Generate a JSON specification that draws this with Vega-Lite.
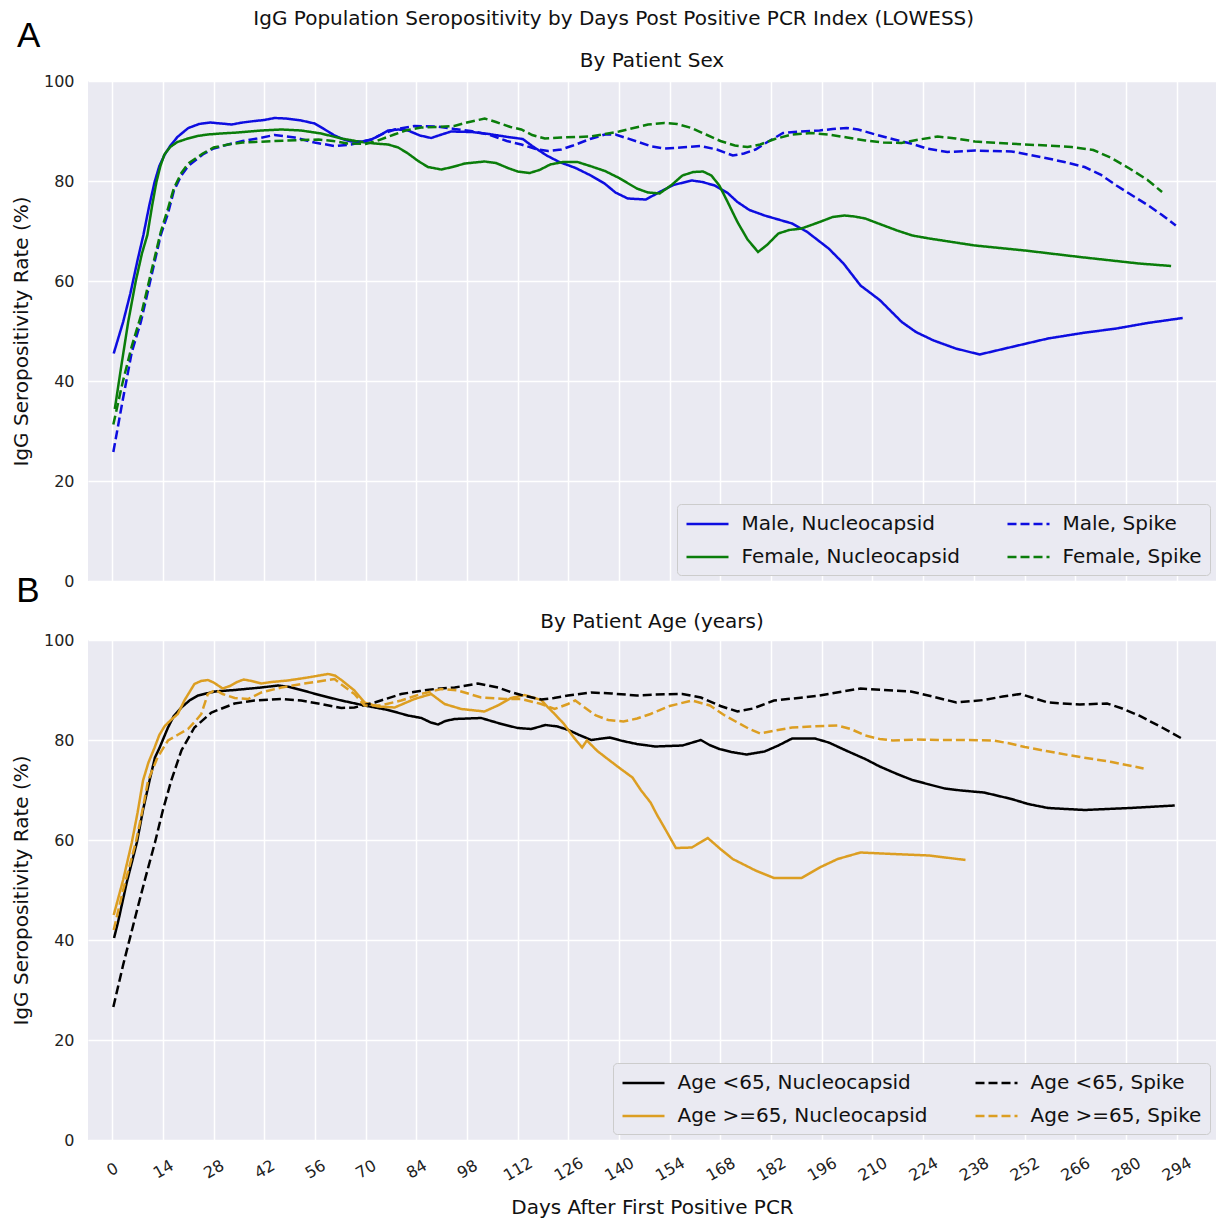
{
  "$schema": "https://vega.github.io/schema/vega-lite/v6.json",
  "background": "white",
  "padding": {"left": 11, "top": 8, "right": 0, "bottom": 0},
  "title": {"text": "IgG Population Seropositivity by Days Post Positive PCR Index (LOWESS)", "fontSize": 20, "fontWeight": "normal", "color": "#111", "anchor": "middle", "offset": -10},
  "config": {
    "font": "DejaVu Sans",
    "view": {"fill": "#eaeaf2", "stroke": null},
    "axis": {"grid": true, "gridColor": "white", "gridWidth": 1.5, "domain": false, "ticks": false, "labelFontSize": 16, "labelColor": "#222", "titleFontSize": 20, "titleFontWeight": "normal", "titleColor": "#111"},
    "legend": {"orient": "bottom-right", "offset": 6, "columns": 2, "symbolType": "M-2,0H2", "symbolSize": 441, "symbolOffset": 10.5, "symbolStrokeWidth": 2.5, "labelFontSize": 20, "labelLimit": 400, "labelOffset": 22, "columnPadding": 42, "rowPadding": 11, "padding": 8, "fillColor": "#eaeaf2", "strokeColor": "#cccccc", "cornerRadius": 4, "labelColor": "#111"},
    "title": {"fontSize": 20, "fontWeight": "normal", "color": "#111"},
    "concat": {"spacing": 3}
  },
  "datasets": {
    "sex": [
      {"series": "Male, Nucleocapsid", "day": 0.4, "rate": 45.5}, {"series": "Male, Nucleocapsid", "day": 3, "rate": 51.8}, {"series": "Male, Nucleocapsid", "day": 5, "rate": 57.5}, {"series": "Male, Nucleocapsid", "day": 7, "rate": 64.2}, {"series": "Male, Nucleocapsid", "day": 8.6, "rate": 69.2}, {"series": "Male, Nucleocapsid", "day": 10.2, "rate": 75}, {"series": "Male, Nucleocapsid", "day": 11.7, "rate": 79.8}, {"series": "Male, Nucleocapsid", "day": 13, "rate": 83}, {"series": "Male, Nucleocapsid", "day": 14.5, "rate": 85.3}, {"series": "Male, Nucleocapsid", "day": 16, "rate": 87}, {"series": "Male, Nucleocapsid", "day": 18, "rate": 88.8}, {"series": "Male, Nucleocapsid", "day": 21, "rate": 90.6}, {"series": "Male, Nucleocapsid", "day": 24, "rate": 91.4}, {"series": "Male, Nucleocapsid", "day": 27, "rate": 91.7}, {"series": "Male, Nucleocapsid", "day": 30, "rate": 91.5}, {"series": "Male, Nucleocapsid", "day": 33, "rate": 91.3}, {"series": "Male, Nucleocapsid", "day": 36, "rate": 91.7}, {"series": "Male, Nucleocapsid", "day": 39.3, "rate": 92}, {"series": "Male, Nucleocapsid", "day": 42, "rate": 92.2}, {"series": "Male, Nucleocapsid", "day": 44.8, "rate": 92.6}, {"series": "Male, Nucleocapsid", "day": 48, "rate": 92.5}, {"series": "Male, Nucleocapsid", "day": 52.2, "rate": 92.1}, {"series": "Male, Nucleocapsid", "day": 55.9, "rate": 91.5}, {"series": "Male, Nucleocapsid", "day": 58.5, "rate": 90.4}, {"series": "Male, Nucleocapsid", "day": 61.4, "rate": 89.1}, {"series": "Male, Nucleocapsid", "day": 64, "rate": 88.3}, {"series": "Male, Nucleocapsid", "day": 66, "rate": 87.9}, {"series": "Male, Nucleocapsid", "day": 69, "rate": 87.9}, {"series": "Male, Nucleocapsid", "day": 71.6, "rate": 88.3}, {"series": "Male, Nucleocapsid", "day": 74, "rate": 89.2}, {"series": "Male, Nucleocapsid", "day": 76.2, "rate": 90.1}, {"series": "Male, Nucleocapsid", "day": 79, "rate": 90.3}, {"series": "Male, Nucleocapsid", "day": 81.7, "rate": 90.1}, {"series": "Male, Nucleocapsid", "day": 85, "rate": 89.1}, {"series": "Male, Nucleocapsid", "day": 88.1, "rate": 88.6}, {"series": "Male, Nucleocapsid", "day": 91, "rate": 89.3}, {"series": "Male, Nucleocapsid", "day": 93.6, "rate": 89.9}, {"series": "Male, Nucleocapsid", "day": 99.2, "rate": 89.8}, {"series": "Male, Nucleocapsid", "day": 104, "rate": 89.4}, {"series": "Male, Nucleocapsid", "day": 109.3, "rate": 88.8}, {"series": "Male, Nucleocapsid", "day": 113.4, "rate": 88.4}, {"series": "Male, Nucleocapsid", "day": 116, "rate": 87}, {"series": "Male, Nucleocapsid", "day": 120, "rate": 85.1}, {"series": "Male, Nucleocapsid", "day": 123.5, "rate": 83.8}, {"series": "Male, Nucleocapsid", "day": 128, "rate": 82.6}, {"series": "Male, Nucleocapsid", "day": 132.2, "rate": 81.1}, {"series": "Male, Nucleocapsid", "day": 136, "rate": 79.5}, {"series": "Male, Nucleocapsid", "day": 139, "rate": 77.7}, {"series": "Male, Nucleocapsid", "day": 142.4, "rate": 76.5}, {"series": "Male, Nucleocapsid", "day": 147.4, "rate": 76.3}, {"series": "Male, Nucleocapsid", "day": 151.2, "rate": 77.8}, {"series": "Male, Nucleocapsid", "day": 155, "rate": 79.2}, {"series": "Male, Nucleocapsid", "day": 160.1, "rate": 80.1}, {"series": "Male, Nucleocapsid", "day": 163, "rate": 79.8}, {"series": "Male, Nucleocapsid", "day": 166.4, "rate": 79.1}, {"series": "Male, Nucleocapsid", "day": 170, "rate": 77.6}, {"series": "Male, Nucleocapsid", "day": 172.7, "rate": 75.8}, {"series": "Male, Nucleocapsid", "day": 176, "rate": 74.2}, {"series": "Male, Nucleocapsid", "day": 180.2, "rate": 73.1}, {"series": "Male, Nucleocapsid", "day": 184, "rate": 72.3}, {"series": "Male, Nucleocapsid", "day": 187.8, "rate": 71.5}, {"series": "Male, Nucleocapsid", "day": 192, "rate": 69.8}, {"series": "Male, Nucleocapsid", "day": 197.9, "rate": 66.5}, {"series": "Male, Nucleocapsid", "day": 202, "rate": 63.5}, {"series": "Male, Nucleocapsid", "day": 206.7, "rate": 59.1}, {"series": "Male, Nucleocapsid", "day": 212, "rate": 56.2}, {"series": "Male, Nucleocapsid", "day": 218.1, "rate": 51.8}, {"series": "Male, Nucleocapsid", "day": 222, "rate": 49.8}, {"series": "Male, Nucleocapsid", "day": 226.9, "rate": 48.1}, {"series": "Male, Nucleocapsid", "day": 233, "rate": 46.5}, {"series": "Male, Nucleocapsid", "day": 239.6, "rate": 45.3}, {"series": "Male, Nucleocapsid", "day": 249, "rate": 46.9}, {"series": "Male, Nucleocapsid", "day": 258.5, "rate": 48.5}, {"series": "Male, Nucleocapsid", "day": 268, "rate": 49.6}, {"series": "Male, Nucleocapsid", "day": 277.4, "rate": 50.5}, {"series": "Male, Nucleocapsid", "day": 286, "rate": 51.6}, {"series": "Male, Nucleocapsid", "day": 295.7, "rate": 52.6},
      {"series": "Female, Nucleocapsid", "day": 0.7, "rate": 34.4}, {"series": "Female, Nucleocapsid", "day": 2.5, "rate": 43}, {"series": "Female, Nucleocapsid", "day": 4.4, "rate": 51.8}, {"series": "Female, Nucleocapsid", "day": 6.5, "rate": 60}, {"series": "Female, Nucleocapsid", "day": 8.2, "rate": 65.5}, {"series": "Female, Nucleocapsid", "day": 9.7, "rate": 69.2}, {"series": "Female, Nucleocapsid", "day": 11, "rate": 75}, {"series": "Female, Nucleocapsid", "day": 12.2, "rate": 79.8}, {"series": "Female, Nucleocapsid", "day": 13.3, "rate": 83}, {"series": "Female, Nucleocapsid", "day": 14.4, "rate": 85.3}, {"series": "Female, Nucleocapsid", "day": 16, "rate": 86.8}, {"series": "Female, Nucleocapsid", "day": 18, "rate": 87.8}, {"series": "Female, Nucleocapsid", "day": 20.9, "rate": 88.5}, {"series": "Female, Nucleocapsid", "day": 23.5, "rate": 89}, {"series": "Female, Nucleocapsid", "day": 26.4, "rate": 89.3}, {"series": "Female, Nucleocapsid", "day": 30, "rate": 89.5}, {"series": "Female, Nucleocapsid", "day": 34.7, "rate": 89.7}, {"series": "Female, Nucleocapsid", "day": 41.2, "rate": 90.1}, {"series": "Female, Nucleocapsid", "day": 46.7, "rate": 90.3}, {"series": "Female, Nucleocapsid", "day": 52.2, "rate": 90.1}, {"series": "Female, Nucleocapsid", "day": 57.7, "rate": 89.5}, {"series": "Female, Nucleocapsid", "day": 63.3, "rate": 88.5}, {"series": "Female, Nucleocapsid", "day": 68.8, "rate": 87.8}, {"series": "Female, Nucleocapsid", "day": 72.5, "rate": 87.5}, {"series": "Female, Nucleocapsid", "day": 76.2, "rate": 87.3}, {"series": "Female, Nucleocapsid", "day": 79, "rate": 86.7}, {"series": "Female, Nucleocapsid", "day": 81.7, "rate": 85.5}, {"series": "Female, Nucleocapsid", "day": 84.5, "rate": 84}, {"series": "Female, Nucleocapsid", "day": 87.2, "rate": 82.8}, {"series": "Female, Nucleocapsid", "day": 90.9, "rate": 82.3}, {"series": "Female, Nucleocapsid", "day": 94, "rate": 82.8}, {"series": "Female, Nucleocapsid", "day": 97.4, "rate": 83.5}, {"series": "Female, Nucleocapsid", "day": 102.9, "rate": 83.9}, {"series": "Female, Nucleocapsid", "day": 106, "rate": 83.6}, {"series": "Female, Nucleocapsid", "day": 109.3, "rate": 82.6}, {"series": "Female, Nucleocapsid", "day": 112, "rate": 81.9}, {"series": "Female, Nucleocapsid", "day": 115.3, "rate": 81.6}, {"series": "Female, Nucleocapsid", "day": 118, "rate": 82.2}, {"series": "Female, Nucleocapsid", "day": 121, "rate": 83.3}, {"series": "Female, Nucleocapsid", "day": 124.5, "rate": 83.8}, {"series": "Female, Nucleocapsid", "day": 128.5, "rate": 83.8}, {"series": "Female, Nucleocapsid", "day": 132, "rate": 83}, {"series": "Female, Nucleocapsid", "day": 136.1, "rate": 82}, {"series": "Female, Nucleocapsid", "day": 140, "rate": 80.6}, {"series": "Female, Nucleocapsid", "day": 144.9, "rate": 78.5}, {"series": "Female, Nucleocapsid", "day": 148, "rate": 77.7}, {"series": "Female, Nucleocapsid", "day": 151.2, "rate": 77.5}, {"series": "Female, Nucleocapsid", "day": 154.5, "rate": 79.2}, {"series": "Female, Nucleocapsid", "day": 157.5, "rate": 81.1}, {"series": "Female, Nucleocapsid", "day": 160.5, "rate": 81.8}, {"series": "Female, Nucleocapsid", "day": 163.2, "rate": 81.9}, {"series": "Female, Nucleocapsid", "day": 165.5, "rate": 81.1}, {"series": "Female, Nucleocapsid", "day": 167.7, "rate": 79.1}, {"series": "Female, Nucleocapsid", "day": 170, "rate": 75.8}, {"series": "Female, Nucleocapsid", "day": 172.7, "rate": 71.8}, {"series": "Female, Nucleocapsid", "day": 175.5, "rate": 68.3}, {"series": "Female, Nucleocapsid", "day": 178.4, "rate": 65.8}, {"series": "Female, Nucleocapsid", "day": 181, "rate": 67.3}, {"series": "Female, Nucleocapsid", "day": 184, "rate": 69.5}, {"series": "Female, Nucleocapsid", "day": 187, "rate": 70.2}, {"series": "Female, Nucleocapsid", "day": 190.4, "rate": 70.5}, {"series": "Female, Nucleocapsid", "day": 195.4, "rate": 71.8}, {"series": "Female, Nucleocapsid", "day": 199, "rate": 72.8}, {"series": "Female, Nucleocapsid", "day": 202.3, "rate": 73.1}, {"series": "Female, Nucleocapsid", "day": 205, "rate": 72.9}, {"series": "Female, Nucleocapsid", "day": 208, "rate": 72.5}, {"series": "Female, Nucleocapsid", "day": 212, "rate": 71.4}, {"series": "Female, Nucleocapsid", "day": 216.8, "rate": 70.1}, {"series": "Female, Nucleocapsid", "day": 221, "rate": 69.1}, {"series": "Female, Nucleocapsid", "day": 225.7, "rate": 68.5}, {"series": "Female, Nucleocapsid", "day": 232, "rate": 67.8}, {"series": "Female, Nucleocapsid", "day": 238.3, "rate": 67.1}, {"series": "Female, Nucleocapsid", "day": 252.1, "rate": 66.1}, {"series": "Female, Nucleocapsid", "day": 267.3, "rate": 64.8}, {"series": "Female, Nucleocapsid", "day": 283.6, "rate": 63.5}, {"series": "Female, Nucleocapsid", "day": 292.5, "rate": 63},
      {"series": "Male, Spike", "day": 0.3, "rate": 25.8}, {"series": "Male, Spike", "day": 2.8, "rate": 35.8}, {"series": "Male, Spike", "day": 5.4, "rate": 45.8}, {"series": "Male, Spike", "day": 7.9, "rate": 51.8}, {"series": "Male, Spike", "day": 10.5, "rate": 60}, {"series": "Male, Spike", "day": 13.4, "rate": 69.2}, {"series": "Male, Spike", "day": 15.4, "rate": 73.5}, {"series": "Male, Spike", "day": 17, "rate": 78}, {"series": "Male, Spike", "day": 19, "rate": 81}, {"series": "Male, Spike", "day": 21, "rate": 83}, {"series": "Male, Spike", "day": 25, "rate": 85.3}, {"series": "Male, Spike", "day": 28, "rate": 86.5}, {"series": "Male, Spike", "day": 32, "rate": 87.3}, {"series": "Male, Spike", "day": 36, "rate": 88}, {"series": "Male, Spike", "day": 40, "rate": 88.5}, {"series": "Male, Spike", "day": 44.8, "rate": 89.2}, {"series": "Male, Spike", "day": 50.4, "rate": 88.7}, {"series": "Male, Spike", "day": 55.9, "rate": 87.7}, {"series": "Male, Spike", "day": 61.4, "rate": 87}, {"series": "Male, Spike", "day": 66, "rate": 87.3}, {"series": "Male, Spike", "day": 71.6, "rate": 88.3}, {"series": "Male, Spike", "day": 75, "rate": 89.5}, {"series": "Male, Spike", "day": 78, "rate": 90.3}, {"series": "Male, Spike", "day": 83.5, "rate": 91}, {"series": "Male, Spike", "day": 89.9, "rate": 90.9}, {"series": "Male, Spike", "day": 94.5, "rate": 90.4}, {"series": "Male, Spike", "day": 99, "rate": 90}, {"series": "Male, Spike", "day": 104, "rate": 89.3}, {"series": "Male, Spike", "day": 109, "rate": 88}, {"series": "Male, Spike", "day": 113, "rate": 87.3}, {"series": "Male, Spike", "day": 117, "rate": 86.4}, {"series": "Male, Spike", "day": 120.4, "rate": 86}, {"series": "Male, Spike", "day": 124, "rate": 86.3}, {"series": "Male, Spike", "day": 127.3, "rate": 87.1}, {"series": "Male, Spike", "day": 132, "rate": 88.4}, {"series": "Male, Spike", "day": 136.1, "rate": 89.3}, {"series": "Male, Spike", "day": 139, "rate": 89.3}, {"series": "Male, Spike", "day": 142, "rate": 88.6}, {"series": "Male, Spike", "day": 144.9, "rate": 87.9}, {"series": "Male, Spike", "day": 149, "rate": 86.9}, {"series": "Male, Spike", "day": 152.5, "rate": 86.5}, {"series": "Male, Spike", "day": 157, "rate": 86.7}, {"series": "Male, Spike", "day": 162.6, "rate": 87}, {"series": "Male, Spike", "day": 167, "rate": 86.3}, {"series": "Male, Spike", "day": 171.4, "rate": 85.1}, {"series": "Male, Spike", "day": 174.5, "rate": 85.5}, {"series": "Male, Spike", "day": 177.7, "rate": 86.3}, {"series": "Male, Spike", "day": 181, "rate": 87.8}, {"series": "Male, Spike", "day": 185.3, "rate": 89.6}, {"series": "Male, Spike", "day": 190, "rate": 89.9}, {"series": "Male, Spike", "day": 195.4, "rate": 90.1}, {"series": "Male, Spike", "day": 199, "rate": 90.4}, {"series": "Male, Spike", "day": 202.9, "rate": 90.6}, {"series": "Male, Spike", "day": 206, "rate": 90.3}, {"series": "Male, Spike", "day": 211.8, "rate": 89.1}, {"series": "Male, Spike", "day": 216, "rate": 88.3}, {"series": "Male, Spike", "day": 220.6, "rate": 87.5}, {"series": "Male, Spike", "day": 225, "rate": 86.5}, {"series": "Male, Spike", "day": 230.7, "rate": 85.8}, {"series": "Male, Spike", "day": 238.3, "rate": 86.1}, {"series": "Male, Spike", "day": 248.4, "rate": 85.9}, {"series": "Male, Spike", "day": 253, "rate": 85.3}, {"series": "Male, Spike", "day": 258.5, "rate": 84.5}, {"series": "Male, Spike", "day": 263, "rate": 83.8}, {"series": "Male, Spike", "day": 268.6, "rate": 82.8}, {"series": "Male, Spike", "day": 273, "rate": 81.3}, {"series": "Male, Spike", "day": 277.4, "rate": 79.1}, {"series": "Male, Spike", "day": 282, "rate": 77}, {"series": "Male, Spike", "day": 286.2, "rate": 75.1}, {"series": "Male, Spike", "day": 290, "rate": 73.2}, {"series": "Male, Spike", "day": 293.8, "rate": 71.1},
      {"series": "Female, Spike", "day": 0.3, "rate": 31.3}, {"series": "Female, Spike", "day": 2.8, "rate": 39.5}, {"series": "Female, Spike", "day": 5.4, "rate": 47}, {"series": "Female, Spike", "day": 7.9, "rate": 53}, {"series": "Female, Spike", "day": 10.5, "rate": 61}, {"series": "Female, Spike", "day": 13.4, "rate": 69.8}, {"series": "Female, Spike", "day": 15.4, "rate": 74.5}, {"series": "Female, Spike", "day": 17, "rate": 78.5}, {"series": "Female, Spike", "day": 19, "rate": 81.5}, {"series": "Female, Spike", "day": 21, "rate": 83.5}, {"series": "Female, Spike", "day": 25, "rate": 85.5}, {"series": "Female, Spike", "day": 28, "rate": 86.7}, {"series": "Female, Spike", "day": 32, "rate": 87.3}, {"series": "Female, Spike", "day": 36, "rate": 87.7}, {"series": "Female, Spike", "day": 39.3, "rate": 87.8}, {"series": "Female, Spike", "day": 44.8, "rate": 88}, {"series": "Female, Spike", "day": 52.2, "rate": 88.2}, {"series": "Female, Spike", "day": 57, "rate": 88.3}, {"series": "Female, Spike", "day": 61, "rate": 88}, {"series": "Female, Spike", "day": 65, "rate": 87.5}, {"series": "Female, Spike", "day": 70, "rate": 87.4}, {"series": "Female, Spike", "day": 73, "rate": 88}, {"series": "Female, Spike", "day": 77.9, "rate": 89.3}, {"series": "Female, Spike", "day": 81, "rate": 90.1}, {"series": "Female, Spike", "day": 85.3, "rate": 90.7}, {"series": "Female, Spike", "day": 90, "rate": 90.8}, {"series": "Female, Spike", "day": 94.5, "rate": 91}, {"series": "Female, Spike", "day": 98, "rate": 91.7}, {"series": "Female, Spike", "day": 102.9, "rate": 92.5}, {"series": "Female, Spike", "day": 106, "rate": 91.8}, {"series": "Female, Spike", "day": 110, "rate": 90.8}, {"series": "Female, Spike", "day": 113, "rate": 90.3}, {"series": "Female, Spike", "day": 116, "rate": 89.2}, {"series": "Female, Spike", "day": 119.5, "rate": 88.5}, {"series": "Female, Spike", "day": 124, "rate": 88.7}, {"series": "Female, Spike", "day": 128, "rate": 88.8}, {"series": "Female, Spike", "day": 132.3, "rate": 88.9}, {"series": "Female, Spike", "day": 136, "rate": 89.4}, {"series": "Female, Spike", "day": 140, "rate": 89.9}, {"series": "Female, Spike", "day": 144, "rate": 90.6}, {"series": "Female, Spike", "day": 148, "rate": 91.3}, {"series": "Female, Spike", "day": 152.5, "rate": 91.6}, {"series": "Female, Spike", "day": 156, "rate": 91.4}, {"series": "Female, Spike", "day": 160, "rate": 90.6}, {"series": "Female, Spike", "day": 164, "rate": 89.3}, {"series": "Female, Spike", "day": 168, "rate": 88}, {"series": "Female, Spike", "day": 172, "rate": 87.1}, {"series": "Female, Spike", "day": 175.5, "rate": 86.8}, {"series": "Female, Spike", "day": 179, "rate": 87.3}, {"series": "Female, Spike", "day": 183, "rate": 88.4}, {"series": "Female, Spike", "day": 187.8, "rate": 89.3}, {"series": "Female, Spike", "day": 193, "rate": 89.6}, {"series": "Female, Spike", "day": 198, "rate": 89.3}, {"series": "Female, Spike", "day": 203, "rate": 88.7}, {"series": "Female, Spike", "day": 208, "rate": 88.1}, {"series": "Female, Spike", "day": 213, "rate": 87.7}, {"series": "Female, Spike", "day": 218, "rate": 87.6}, {"series": "Female, Spike", "day": 223, "rate": 88.3}, {"series": "Female, Spike", "day": 228, "rate": 88.9}, {"series": "Female, Spike", "day": 233, "rate": 88.5}, {"series": "Female, Spike", "day": 238.3, "rate": 87.9}, {"series": "Female, Spike", "day": 245, "rate": 87.6}, {"series": "Female, Spike", "day": 252, "rate": 87.3}, {"series": "Female, Spike", "day": 258.5, "rate": 87.1}, {"series": "Female, Spike", "day": 265, "rate": 86.8}, {"series": "Female, Spike", "day": 271, "rate": 86.2}, {"series": "Female, Spike", "day": 276, "rate": 84.6}, {"series": "Female, Spike", "day": 281, "rate": 82.5}, {"series": "Female, Spike", "day": 286, "rate": 80.2}, {"series": "Female, Spike", "day": 290, "rate": 77.8}
    ],
    "age": [
      {"series": "Age <65, Nucleocapsid", "day": 0.5, "rate": 40.4}, {"series": "Age <65, Nucleocapsid", "day": 1.7, "rate": 43.9}, {"series": "Age <65, Nucleocapsid", "day": 4, "rate": 51.5}, {"series": "Age <65, Nucleocapsid", "day": 6.8, "rate": 59.5}, {"series": "Age <65, Nucleocapsid", "day": 8.5, "rate": 66}, {"series": "Age <65, Nucleocapsid", "day": 10.3, "rate": 71.9}, {"series": "Age <65, Nucleocapsid", "day": 11.8, "rate": 76.5}, {"series": "Age <65, Nucleocapsid", "day": 13.1, "rate": 78.5}, {"series": "Age <65, Nucleocapsid", "day": 15.4, "rate": 82.5}, {"series": "Age <65, Nucleocapsid", "day": 17, "rate": 84.8}, {"series": "Age <65, Nucleocapsid", "day": 19.1, "rate": 86.5}, {"series": "Age <65, Nucleocapsid", "day": 21.5, "rate": 88}, {"series": "Age <65, Nucleocapsid", "day": 23.7, "rate": 88.9}, {"series": "Age <65, Nucleocapsid", "day": 28.3, "rate": 89.7}, {"series": "Age <65, Nucleocapsid", "day": 33.8, "rate": 90}, {"series": "Age <65, Nucleocapsid", "day": 41.2, "rate": 90.5}, {"series": "Age <65, Nucleocapsid", "day": 45.8, "rate": 90.9}, {"series": "Age <65, Nucleocapsid", "day": 49, "rate": 90.6}, {"series": "Age <65, Nucleocapsid", "day": 52.2, "rate": 90}, {"series": "Age <65, Nucleocapsid", "day": 57.7, "rate": 88.9}, {"series": "Age <65, Nucleocapsid", "day": 63.3, "rate": 87.9}, {"series": "Age <65, Nucleocapsid", "day": 69.7, "rate": 86.9}, {"series": "Age <65, Nucleocapsid", "day": 76.2, "rate": 86}, {"series": "Age <65, Nucleocapsid", "day": 81.7, "rate": 84.9}, {"series": "Age <65, Nucleocapsid", "day": 85.4, "rate": 84.4}, {"series": "Age <65, Nucleocapsid", "day": 88, "rate": 83.5}, {"series": "Age <65, Nucleocapsid", "day": 90, "rate": 83.1}, {"series": "Age <65, Nucleocapsid", "day": 92, "rate": 83.8}, {"series": "Age <65, Nucleocapsid", "day": 94.6, "rate": 84.2}, {"series": "Age <65, Nucleocapsid", "day": 101.9, "rate": 84.4}, {"series": "Age <65, Nucleocapsid", "day": 107.5, "rate": 83.2}, {"series": "Age <65, Nucleocapsid", "day": 112, "rate": 82.4}, {"series": "Age <65, Nucleocapsid", "day": 115.7, "rate": 82.2}, {"series": "Age <65, Nucleocapsid", "day": 119.7, "rate": 83}, {"series": "Age <65, Nucleocapsid", "day": 123, "rate": 82.7}, {"series": "Age <65, Nucleocapsid", "day": 126, "rate": 82}, {"series": "Age <65, Nucleocapsid", "day": 129, "rate": 81}, {"series": "Age <65, Nucleocapsid", "day": 132.3, "rate": 80}, {"series": "Age <65, Nucleocapsid", "day": 137.4, "rate": 80.5}, {"series": "Age <65, Nucleocapsid", "day": 141, "rate": 79.8}, {"series": "Age <65, Nucleocapsid", "day": 144.9, "rate": 79.2}, {"series": "Age <65, Nucleocapsid", "day": 150, "rate": 78.7}, {"series": "Age <65, Nucleocapsid", "day": 157.5, "rate": 78.9}, {"series": "Age <65, Nucleocapsid", "day": 162.6, "rate": 80}, {"series": "Age <65, Nucleocapsid", "day": 165, "rate": 79}, {"series": "Age <65, Nucleocapsid", "day": 167.7, "rate": 78.2}, {"series": "Age <65, Nucleocapsid", "day": 171, "rate": 77.6}, {"series": "Age <65, Nucleocapsid", "day": 175.2, "rate": 77.1}, {"series": "Age <65, Nucleocapsid", "day": 180.2, "rate": 77.7}, {"series": "Age <65, Nucleocapsid", "day": 184, "rate": 78.9}, {"series": "Age <65, Nucleocapsid", "day": 187.8, "rate": 80.3}, {"series": "Age <65, Nucleocapsid", "day": 194.1, "rate": 80.3}, {"series": "Age <65, Nucleocapsid", "day": 197.9, "rate": 79.5}, {"series": "Age <65, Nucleocapsid", "day": 203, "rate": 77.8}, {"series": "Age <65, Nucleocapsid", "day": 208, "rate": 76.2}, {"series": "Age <65, Nucleocapsid", "day": 212, "rate": 74.7}, {"series": "Age <65, Nucleocapsid", "day": 216.8, "rate": 73.2}, {"series": "Age <65, Nucleocapsid", "day": 221, "rate": 72}, {"series": "Age <65, Nucleocapsid", "day": 225.7, "rate": 71.1}, {"series": "Age <65, Nucleocapsid", "day": 230, "rate": 70.3}, {"series": "Age <65, Nucleocapsid", "day": 234.5, "rate": 69.9}, {"series": "Age <65, Nucleocapsid", "day": 240.8, "rate": 69.5}, {"series": "Age <65, Nucleocapsid", "day": 248.4, "rate": 68.2}, {"series": "Age <65, Nucleocapsid", "day": 253, "rate": 67.2}, {"series": "Age <65, Nucleocapsid", "day": 258.5, "rate": 66.4}, {"series": "Age <65, Nucleocapsid", "day": 268.6, "rate": 66}, {"series": "Age <65, Nucleocapsid", "day": 281.1, "rate": 66.4}, {"series": "Age <65, Nucleocapsid", "day": 293.5, "rate": 66.9},
      {"series": "Age >=65, Nucleocapsid", "day": 0.4, "rate": 45}, {"series": "Age >=65, Nucleocapsid", "day": 3, "rate": 52}, {"series": "Age >=65, Nucleocapsid", "day": 5.4, "rate": 59.5}, {"series": "Age >=65, Nucleocapsid", "day": 7, "rate": 65.5}, {"series": "Age >=65, Nucleocapsid", "day": 8.5, "rate": 71.9}, {"series": "Age >=65, Nucleocapsid", "day": 10, "rate": 75.5}, {"series": "Age >=65, Nucleocapsid", "day": 11.7, "rate": 78.5}, {"series": "Age >=65, Nucleocapsid", "day": 13, "rate": 81}, {"series": "Age >=65, Nucleocapsid", "day": 14.5, "rate": 82.8}, {"series": "Age >=65, Nucleocapsid", "day": 16.5, "rate": 84.2}, {"series": "Age >=65, Nucleocapsid", "day": 18.1, "rate": 85.2}, {"series": "Age >=65, Nucleocapsid", "day": 20, "rate": 88}, {"series": "Age >=65, Nucleocapsid", "day": 22.7, "rate": 91.2}, {"series": "Age >=65, Nucleocapsid", "day": 24.5, "rate": 91.8}, {"series": "Age >=65, Nucleocapsid", "day": 26.4, "rate": 92}, {"series": "Age >=65, Nucleocapsid", "day": 28, "rate": 91.5}, {"series": "Age >=65, Nucleocapsid", "day": 30.5, "rate": 90.3}, {"series": "Age >=65, Nucleocapsid", "day": 32.5, "rate": 90.8}, {"series": "Age >=65, Nucleocapsid", "day": 34.5, "rate": 91.6}, {"series": "Age >=65, Nucleocapsid", "day": 36.3, "rate": 92.1}, {"series": "Age >=65, Nucleocapsid", "day": 38.5, "rate": 91.8}, {"series": "Age >=65, Nucleocapsid", "day": 41.2, "rate": 91.3}, {"series": "Age >=65, Nucleocapsid", "day": 44, "rate": 91.6}, {"series": "Age >=65, Nucleocapsid", "day": 48.5, "rate": 91.9}, {"series": "Age >=65, Nucleocapsid", "day": 54, "rate": 92.5}, {"series": "Age >=65, Nucleocapsid", "day": 59.6, "rate": 93.2}, {"series": "Age >=65, Nucleocapsid", "day": 61.5, "rate": 92.9}, {"series": "Age >=65, Nucleocapsid", "day": 63.3, "rate": 92}, {"series": "Age >=65, Nucleocapsid", "day": 66.9, "rate": 89.9}, {"series": "Age >=65, Nucleocapsid", "day": 69.7, "rate": 87.5}, {"series": "Age >=65, Nucleocapsid", "day": 73.4, "rate": 86.7}, {"series": "Age >=65, Nucleocapsid", "day": 78, "rate": 86.5}, {"series": "Age >=65, Nucleocapsid", "day": 83.5, "rate": 88.2}, {"series": "Age >=65, Nucleocapsid", "day": 88.1, "rate": 89.2}, {"series": "Age >=65, Nucleocapsid", "day": 91.8, "rate": 87.2}, {"series": "Age >=65, Nucleocapsid", "day": 96.4, "rate": 86.2}, {"series": "Age >=65, Nucleocapsid", "day": 102.8, "rate": 85.7}, {"series": "Age >=65, Nucleocapsid", "day": 106.5, "rate": 86.9}, {"series": "Age >=65, Nucleocapsid", "day": 110.2, "rate": 88.4}, {"series": "Age >=65, Nucleocapsid", "day": 113.9, "rate": 89}, {"series": "Age >=65, Nucleocapsid", "day": 118.5, "rate": 88}, {"series": "Age >=65, Nucleocapsid", "day": 120, "rate": 86.8}, {"series": "Age >=65, Nucleocapsid", "day": 122.2, "rate": 85.2}, {"series": "Age >=65, Nucleocapsid", "day": 124.8, "rate": 83.2}, {"series": "Age >=65, Nucleocapsid", "day": 127.5, "rate": 80.5}, {"series": "Age >=65, Nucleocapsid", "day": 129.8, "rate": 78.5}, {"series": "Age >=65, Nucleocapsid", "day": 131.1, "rate": 79.9}, {"series": "Age >=65, Nucleocapsid", "day": 134, "rate": 77.8}, {"series": "Age >=65, Nucleocapsid", "day": 137.4, "rate": 75.9}, {"series": "Age >=65, Nucleocapsid", "day": 140.5, "rate": 74.2}, {"series": "Age >=65, Nucleocapsid", "day": 143.7, "rate": 72.5}, {"series": "Age >=65, Nucleocapsid", "day": 146, "rate": 70}, {"series": "Age >=65, Nucleocapsid", "day": 148.7, "rate": 67.5}, {"series": "Age >=65, Nucleocapsid", "day": 150.5, "rate": 65}, {"series": "Age >=65, Nucleocapsid", "day": 152.5, "rate": 62.5}, {"series": "Age >=65, Nucleocapsid", "day": 155.7, "rate": 58.4}, {"series": "Age >=65, Nucleocapsid", "day": 160.1, "rate": 58.5}, {"series": "Age >=65, Nucleocapsid", "day": 164.5, "rate": 60.4}, {"series": "Age >=65, Nucleocapsid", "day": 168, "rate": 58.2}, {"series": "Age >=65, Nucleocapsid", "day": 171.4, "rate": 56.2}, {"series": "Age >=65, Nucleocapsid", "day": 177.7, "rate": 53.9}, {"series": "Age >=65, Nucleocapsid", "day": 182.8, "rate": 52.4}, {"series": "Age >=65, Nucleocapsid", "day": 190.4, "rate": 52.4}, {"series": "Age >=65, Nucleocapsid", "day": 195.4, "rate": 54.5}, {"series": "Age >=65, Nucleocapsid", "day": 200.4, "rate": 56.2}, {"series": "Age >=65, Nucleocapsid", "day": 206.7, "rate": 57.5}, {"series": "Age >=65, Nucleocapsid", "day": 215.6, "rate": 57.2}, {"series": "Age >=65, Nucleocapsid", "day": 225.7, "rate": 56.9}, {"series": "Age >=65, Nucleocapsid", "day": 235.7, "rate": 56},
      {"series": "Age <65, Spike", "day": 0.3, "rate": 26.6}, {"series": "Age <65, Spike", "day": 3, "rate": 35}, {"series": "Age <65, Spike", "day": 6.5, "rate": 45}, {"series": "Age <65, Spike", "day": 9, "rate": 52}, {"series": "Age <65, Spike", "day": 11.8, "rate": 59.5}, {"series": "Age <65, Spike", "day": 14, "rate": 66}, {"series": "Age <65, Spike", "day": 16.3, "rate": 71.9}, {"series": "Age <65, Spike", "day": 19.1, "rate": 77.9}, {"series": "Age <65, Spike", "day": 22.7, "rate": 82.5}, {"series": "Age <65, Spike", "day": 27.4, "rate": 85.5}, {"series": "Age <65, Spike", "day": 33.8, "rate": 87.3}, {"series": "Age <65, Spike", "day": 39.3, "rate": 87.9}, {"series": "Age <65, Spike", "day": 46.7, "rate": 88.2}, {"series": "Age <65, Spike", "day": 52.2, "rate": 87.9}, {"series": "Age <65, Spike", "day": 57.7, "rate": 87.2}, {"series": "Age <65, Spike", "day": 63.3, "rate": 86.4}, {"series": "Age <65, Spike", "day": 66.9, "rate": 86.5}, {"series": "Age <65, Spike", "day": 72.5, "rate": 87.5}, {"series": "Age <65, Spike", "day": 79.8, "rate": 89.2}, {"series": "Age <65, Spike", "day": 85, "rate": 89.8}, {"series": "Age <65, Spike", "day": 89.1, "rate": 90.2}, {"series": "Age <65, Spike", "day": 94.6, "rate": 90.5}, {"series": "Age <65, Spike", "day": 101, "rate": 91.3}, {"series": "Age <65, Spike", "day": 106.6, "rate": 90.5}, {"series": "Age <65, Spike", "day": 110, "rate": 89.6}, {"series": "Age <65, Spike", "day": 113, "rate": 89}, {"series": "Age <65, Spike", "day": 118.5, "rate": 88.1}, {"series": "Age <65, Spike", "day": 122, "rate": 88.4}, {"series": "Age <65, Spike", "day": 125.9, "rate": 88.9}, {"series": "Age <65, Spike", "day": 132.3, "rate": 89.5}, {"series": "Age <65, Spike", "day": 138, "rate": 89.3}, {"series": "Age <65, Spike", "day": 144.9, "rate": 88.9}, {"series": "Age <65, Spike", "day": 150, "rate": 89.1}, {"series": "Age <65, Spike", "day": 157.5, "rate": 89.2}, {"series": "Age <65, Spike", "day": 162.6, "rate": 88.5}, {"series": "Age <65, Spike", "day": 168, "rate": 86.8}, {"series": "Age <65, Spike", "day": 172.7, "rate": 85.7}, {"series": "Age <65, Spike", "day": 177, "rate": 86.3}, {"series": "Age <65, Spike", "day": 182.8, "rate": 87.9}, {"series": "Age <65, Spike", "day": 188, "rate": 88.3}, {"series": "Age <65, Spike", "day": 195.4, "rate": 88.9}, {"series": "Age <65, Spike", "day": 201, "rate": 89.6}, {"series": "Age <65, Spike", "day": 206.7, "rate": 90.3}, {"series": "Age <65, Spike", "day": 213, "rate": 90}, {"series": "Age <65, Spike", "day": 220.6, "rate": 89.7}, {"series": "Age <65, Spike", "day": 226, "rate": 88.8}, {"series": "Age <65, Spike", "day": 233.2, "rate": 87.5}, {"series": "Age <65, Spike", "day": 240.8, "rate": 88}, {"series": "Age <65, Spike", "day": 246, "rate": 88.7}, {"series": "Age <65, Spike", "day": 250.9, "rate": 89.2}, {"series": "Age <65, Spike", "day": 254, "rate": 88.5}, {"series": "Age <65, Spike", "day": 258.5, "rate": 87.5}, {"series": "Age <65, Spike", "day": 267.3, "rate": 87.1}, {"series": "Age <65, Spike", "day": 274.8, "rate": 87.3}, {"series": "Age <65, Spike", "day": 279, "rate": 86.3}, {"series": "Age <65, Spike", "day": 283.6, "rate": 84.9}, {"series": "Age <65, Spike", "day": 290, "rate": 82.5}, {"series": "Age <65, Spike", "day": 295.7, "rate": 80.2},
      {"series": "Age >=65, Spike", "day": 0.4, "rate": 42}, {"series": "Age >=65, Spike", "day": 3, "rate": 50}, {"series": "Age >=65, Spike", "day": 6.5, "rate": 59.5}, {"series": "Age >=65, Spike", "day": 8.5, "rate": 66.5}, {"series": "Age >=65, Spike", "day": 9.9, "rate": 71.9}, {"series": "Age >=65, Spike", "day": 12.5, "rate": 76.5}, {"series": "Age >=65, Spike", "day": 15.4, "rate": 79.9}, {"series": "Age >=65, Spike", "day": 18, "rate": 81}, {"series": "Age >=65, Spike", "day": 20.9, "rate": 82.2}, {"series": "Age >=65, Spike", "day": 23, "rate": 83.8}, {"series": "Age >=65, Spike", "day": 24.6, "rate": 85.2}, {"series": "Age >=65, Spike", "day": 26.4, "rate": 89.2}, {"series": "Age >=65, Spike", "day": 28.5, "rate": 90}, {"series": "Age >=65, Spike", "day": 30.5, "rate": 89.2}, {"series": "Age >=65, Spike", "day": 33.8, "rate": 88.4}, {"series": "Age >=65, Spike", "day": 37.5, "rate": 88.2}, {"series": "Age >=65, Spike", "day": 41.2, "rate": 89.5}, {"series": "Age >=65, Spike", "day": 46.7, "rate": 90.5}, {"series": "Age >=65, Spike", "day": 52.2, "rate": 91.2}, {"series": "Age >=65, Spike", "day": 57, "rate": 91.7}, {"series": "Age >=65, Spike", "day": 61.4, "rate": 92.2}, {"series": "Age >=65, Spike", "day": 63.5, "rate": 91}, {"series": "Age >=65, Spike", "day": 66.9, "rate": 89.2}, {"series": "Age >=65, Spike", "day": 69.7, "rate": 86.9}, {"series": "Age >=65, Spike", "day": 74, "rate": 86.9}, {"series": "Age >=65, Spike", "day": 79.8, "rate": 87.9}, {"series": "Age >=65, Spike", "day": 85.3, "rate": 89.2}, {"series": "Age >=65, Spike", "day": 90.9, "rate": 90.2}, {"series": "Age >=65, Spike", "day": 95.5, "rate": 89.9}, {"series": "Age >=65, Spike", "day": 101.9, "rate": 88.5}, {"series": "Age >=65, Spike", "day": 108.4, "rate": 88.2}, {"series": "Age >=65, Spike", "day": 113, "rate": 88.2}, {"series": "Age >=65, Spike", "day": 118.5, "rate": 87.2}, {"series": "Age >=65, Spike", "day": 122.2, "rate": 86.2}, {"series": "Age >=65, Spike", "day": 125.9, "rate": 87.2}, {"series": "Age >=65, Spike", "day": 127.9, "rate": 87.9}, {"series": "Age >=65, Spike", "day": 130.5, "rate": 86.5}, {"series": "Age >=65, Spike", "day": 133.6, "rate": 84.9}, {"series": "Age >=65, Spike", "day": 137, "rate": 84}, {"series": "Age >=65, Spike", "day": 141.2, "rate": 83.7}, {"series": "Age >=65, Spike", "day": 145, "rate": 84.3}, {"series": "Age >=65, Spike", "day": 148.7, "rate": 85.2}, {"series": "Age >=65, Spike", "day": 154, "rate": 86.8}, {"series": "Age >=65, Spike", "day": 160.1, "rate": 87.9}, {"series": "Age >=65, Spike", "day": 165.1, "rate": 86.9}, {"series": "Age >=65, Spike", "day": 169, "rate": 85}, {"series": "Age >=65, Spike", "day": 172.7, "rate": 83.5}, {"series": "Age >=65, Spike", "day": 176, "rate": 82.2}, {"series": "Age >=65, Spike", "day": 179, "rate": 81.3}, {"series": "Age >=65, Spike", "day": 183, "rate": 81.9}, {"series": "Age >=65, Spike", "day": 187.8, "rate": 82.5}, {"series": "Age >=65, Spike", "day": 193, "rate": 82.7}, {"series": "Age >=65, Spike", "day": 200.4, "rate": 82.9}, {"series": "Age >=65, Spike", "day": 204, "rate": 82.2}, {"series": "Age >=65, Spike", "day": 208, "rate": 80.9}, {"series": "Age >=65, Spike", "day": 212, "rate": 80.2}, {"series": "Age >=65, Spike", "day": 215.6, "rate": 79.9}, {"series": "Age >=65, Spike", "day": 222, "rate": 80.1}, {"series": "Age >=65, Spike", "day": 228.2, "rate": 80}, {"series": "Age >=65, Spike", "day": 236, "rate": 80}, {"series": "Age >=65, Spike", "day": 243.3, "rate": 79.9}, {"series": "Age >=65, Spike", "day": 248, "rate": 79.3}, {"series": "Age >=65, Spike", "day": 252.1, "rate": 78.6}, {"series": "Age >=65, Spike", "day": 258, "rate": 77.8}, {"series": "Age >=65, Spike", "day": 264.8, "rate": 76.9}, {"series": "Age >=65, Spike", "day": 270, "rate": 76.3}, {"series": "Age >=65, Spike", "day": 276.1, "rate": 75.6}, {"series": "Age >=65, Spike", "day": 284.9, "rate": 74.3}
    ]
  },
  "vconcat": [
    {
      "width": 1128,
      "height": 500,
      "title": {"text": "By Patient Sex", "anchor": "middle", "frame": "group", "offset": -52},
      "layer": [
        {
          "data": {"name": "sex"},
          "mark": {"type": "line", "strokeWidth": 2.5, "clip": true},
          "encoding": {
            "x": {"field": "day", "type": "quantitative", "scale": {"domain": [-6.7, 304.9], "nice": false, "zero": false}, "axis": {"values": [0, 14, 28, 42, 56, 70, 84, 98, 112, 126, 140, 154, 168, 182, 196, 210, 224, 238, 252, 266, 280, 294], "labels": false, "title": null}},
            "y": {"field": "rate", "type": "quantitative", "scale": {"domain": [0, 100], "nice": false}, "axis": {"values": [0, 20, 40, 60, 80, 100], "title": "IgG Seropositivity Rate (%)", "labelPadding": 14, "titlePadding": 12}},
            "color": {"field": "series", "type": "nominal", "scale": {"domain": ["Male, Nucleocapsid", "Female, Nucleocapsid", "Male, Spike", "Female, Spike"], "range": ["#0d0de0", "#0a7d0a", "#0d0de0", "#0a7d0a"]}, "legend": {"title": null}},
            "strokeDash": {"field": "series", "type": "nominal", "scale": {"domain": ["Male, Nucleocapsid", "Female, Nucleocapsid", "Male, Spike", "Female, Spike"], "range": [[1, 0], [1, 0], [9, 4], [9, 4]]}, "legend": {"title": null}}
          }
        },
        {
          "data": {"values": [{"letter": "A"}]},
          "mark": {"type": "text", "fontSize": 35, "font": "Liberation Sans", "align": "center", "baseline": "middle", "color": "black"},
          "encoding": {"x": {"datum": -23.1}, "y": {"datum": 109}, "text": {"field": "letter"}}
        },
        {
          "data": {"values": [{"letter": "B"}]},
          "mark": {"type": "text", "fontSize": 35, "font": "Liberation Sans", "align": "center", "baseline": "middle", "color": "black"},
          "encoding": {"x": {"datum": -23.3}, "y": {"datum": -2}, "text": {"field": "letter"}}
        }
      ]
    },
    {
      "width": 1128,
      "height": 500,
      "title": {"text": "By Patient Age (years)", "anchor": "middle", "frame": "group", "offset": 0},
      "data": {"name": "age"},
      "mark": {"type": "line", "strokeWidth": 2.5, "clip": true},
      "encoding": {
        "x": {"field": "day", "type": "quantitative", "scale": {"domain": [-6.7, 304.9], "nice": false, "zero": false}, "axis": {"values": [0, 14, 28, 42, 56, 70, 84, 98, 112, 126, 140, 154, 168, 182, 196, 210, 224, 238, 252, 266, 280, 294], "labelAngle": -30, "labelAlign": "center", "labelBaseline": "middle", "labelPadding": 29, "title": "Days After First Positive PCR", "titlePadding": 14}},
        "y": {"field": "rate", "type": "quantitative", "scale": {"domain": [0, 100], "nice": false}, "axis": {"values": [0, 20, 40, 60, 80, 100], "title": "IgG Seropositivity Rate (%)", "labelPadding": 14, "titlePadding": 12}},
        "color": {"field": "series", "type": "nominal", "scale": {"domain": ["Age <65, Nucleocapsid", "Age >=65, Nucleocapsid", "Age <65, Spike", "Age >=65, Spike"], "range": ["#000000", "#dc9e22", "#000000", "#dc9e22"]}, "legend": {"title": null}},
        "strokeDash": {"field": "series", "type": "nominal", "scale": {"domain": ["Age <65, Nucleocapsid", "Age >=65, Nucleocapsid", "Age <65, Spike", "Age >=65, Spike"], "range": [[1, 0], [1, 0], [9, 4], [9, 4]]}, "legend": {"title": null}}
      }
    }
  ],
  "resolve": {"scale": {"color": "independent", "strokeDash": "independent"}, "legend": {"color": "independent", "strokeDash": "independent"}}
}
